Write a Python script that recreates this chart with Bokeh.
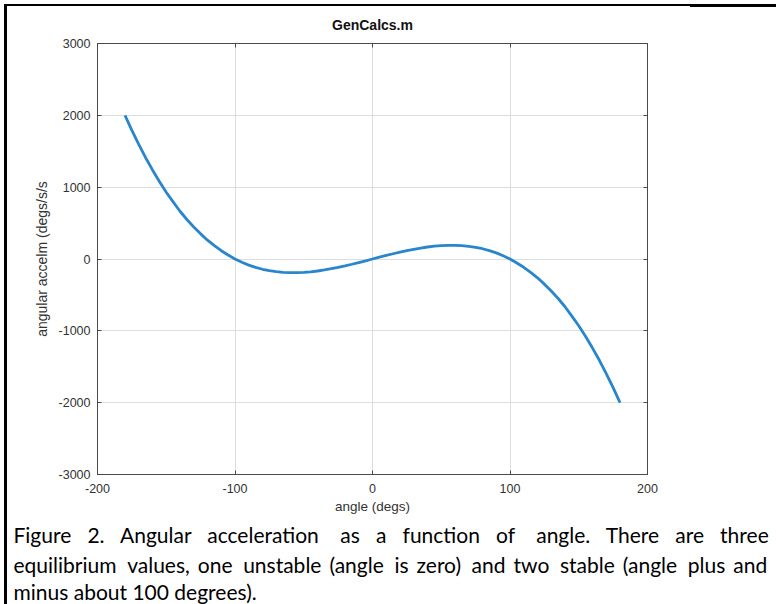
from bokeh.plotting import figure
from bokeh.models import (LinearAxis, FixedTicker, Range1d, ColumnDataSource,
                          CustomJSTickFormatter, Title)
from bokeh.embed import file_html
from bokeh.resources import INLINE

# ---- data ----
angle_deg = [-180, -175, -170, -165, -160, -155, -150, -145, -140, -135, -130, -125,
             -120, -115, -110, -105, -100, -95, -90, -85, -80, -75, -70, -65,
             -60, -55, -50, -45, -40, -35, -30, -25, -20, -15, -10, -5,
             0, 5, 10, 15, 20, 25, 30, 35, 40, 45, 50, 55,
             60, 65, 70, 75, 80, 85, 90, 95, 100, 105, 110, 115,
             120, 125, 130, 135, 140, 145, 150, 155, 160, 165, 170, 175, 180]
ang_accel = [2000, 1790, 1595, 1410, 1240, 1080, 930, 795, 665, 550, 445, 350,
             262, 185, 115, 55, 0, -46, -85, -117, -143, -163, -177, -186,
             -190, -190, -186, -178, -167, -152, -135, -116, -95, -73, -49, -25,
             0, 25, 49, 73, 95, 116, 135, 152, 167, 178, 186, 190,
             190, 186, 177, 163, 143, 117, 85, 46, 0, -55, -115, -185,
             -262, -350, -445, -550, -665, -795, -930, -1080, -1240, -1410, -1595, -1790, -2000]

x_ticks = [-200, -100, 0, 100, 200]
y_ticks = [-3000, -2000, -1000, 0, 1000, 2000, 3000]

title_text = "GenCalcs.m"
x_label = "angle (degs)"
y_label = "angular accelm (degs/s/s"
caption_line1 = ["Figure", "2.", "Angular", "acceleration", "as", "a", "function",
                 "of", "angle.", "There", "are", "three"]
caption_line2 = ["equilibrium", "values,", "one", "unstable", "(angle", "is", "zero)",
                 "and", "two", "stable", "(angle", "plus", "and"]
caption_line3 = "minus about 100 degrees)."

# ---- layout constants (canvas px) ----
W, H = 776, 604
FL, FR, FT, FB = 97, 647, 43, 474   # plot frame edges on the canvas

AX = "#4a4a4a"
TICK_TXT = "#333333"
FONT = "Liberation Sans"
NBSP = "\u00a0"
THIN = "\u2009"

# document border lines (drawn as CSS background layers of the figure element)
doc_border = ("linear-gradient(#000,#000) 4px 4px / 3px 600px no-repeat, "
              "linear-gradient(#000,#000) 4px 4px / 686px 2px no-repeat, "
              "linear-gradient(#000,#000) 690px 4px / 86px 3px no-repeat, #ffffff")

p = figure(width=W, height=H, output_backend="svg", toolbar_location=None,
           x_range=Range1d(-200, 200), y_range=Range1d(-3000, 3000),
           min_border_left=FL, min_border_right=W - FR,
           min_border_top=FT, min_border_bottom=H - FB,
           background_fill_color="white", border_fill_color=None,
           styles={"background": doc_border})
p.outline_line_color = AX

src = ColumnDataSource(dict(angle=angle_deg, accel=ang_accel))
p.line("angle", "accel", source=src, line_color="#2a86cc", line_width=2.8)

p.xgrid.ticker = FixedTicker(ticks=x_ticks)
p.ygrid.ticker = FixedTicker(ticks=y_ticks)
p.xgrid.grid_line_color = "#dddddd"
p.ygrid.grid_line_color = "#dddddd"

plain = CustomJSTickFormatter(code="return tick.toString()")
blank = CustomJSTickFormatter(code="return ''")


def style_axis(ax, ticks):
    ax.ticker = FixedTicker(ticks=ticks)
    ax.major_tick_in = 4
    ax.major_tick_out = 0
    ax.minor_tick_line_color = None
    ax.axis_line_color = AX
    ax.major_tick_line_color = AX
    ax.major_label_text_color = TICK_TXT
    ax.major_label_text_font = FONT
    ax.major_label_text_font_size = "12.5px"


xa = p.xaxis[0]
style_axis(xa, x_ticks)
xa.formatter = plain
xa.major_label_standoff = 9
xa.axis_label = x_label
xa.axis_label_text_font = FONT
xa.axis_label_text_font_size = "13.5px"
xa.axis_label_text_font_style = "normal"
xa.axis_label_text_color = TICK_TXT
xa.axis_label_standoff = 3

ya = p.yaxis[0]
style_axis(ya, y_ticks)
ya.formatter = plain
ya.major_label_standoff = 7
ya.axis_label = y_label
ya.axis_label_text_font = FONT
ya.axis_label_text_font_size = "14px"
ya.axis_label_text_font_style = "normal"
ya.axis_label_text_color = TICK_TXT
ya.axis_label_standoff = 6

top = LinearAxis(formatter=blank)
style_axis(top, x_ticks)
top.major_label_text_font_size = "1px"
top.major_label_standoff = 0
top.axis_label = title_text
top.axis_label_text_font = FONT
top.axis_label_text_font_size = "14px"
top.axis_label_text_font_style = "bold"
top.axis_label_text_color = "#111111"
top.axis_label_standoff = 11
p.add_layout(top, "above")

right = LinearAxis(formatter=blank)
style_axis(right, y_ticks)
right.major_label_text_font_size = "1px"
right.major_label_standoff = 0
p.add_layout(right, "right")


# ---- caption (justified lines: widened word gaps) ----
def justify(words, gaps):
    out = words[0]
    for g, w in zip(gaps, words[1:]):
        out += g + w
    return out


g3, g4 = NBSP * 3, NBSP * 4
line1 = justify(caption_line1, [g3, g3, g3, g4, g3, g3, g3, g4, g3, g3, g3])
ga, gb = NBSP + THIN, NBSP + THIN + THIN
line2 = justify(caption_line2, [gb, ga, gb, ga, gb, ga, gb, ga, gb, ga, gb, ga])

CAP = dict(text_font="Lato", text_font_size="21px", text_font_style="normal",
           text_color="black", align="left", offset=13 - FL)
p.add_layout(Title(text=line1, standoff=6, **CAP), "below")
p.add_layout(Title(text=line2, standoff=0, **CAP), "below")
p.add_layout(Title(text=caption_line3, standoff=0, **CAP), "below")

open("out.html", "w").write(file_html(p, INLINE))
